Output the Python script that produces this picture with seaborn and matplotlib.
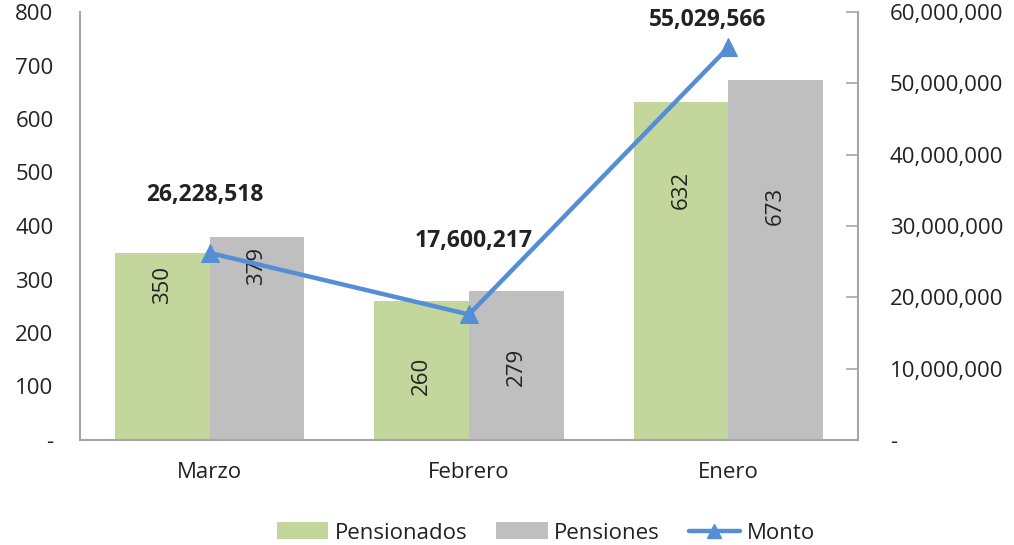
import matplotlib
matplotlib.use("Agg")
import matplotlib.pyplot as plt
import seaborn as sns
import pandas as pd
import numpy as np
from matplotlib.lines import Line2D
from matplotlib.patches import Patch
from matplotlib.ticker import FuncFormatter

# ---- data ----
months = ["Marzo", "Febrero", "Enero"]
pensionados = [350, 260, 632]
pensiones = [379, 279, 673]
monto = [26228518, 17600217, 55029566]
series_names = ["Pensionados", "Pensiones", "Monto"]

# ---- style ----
GREEN = "#C3D69B"
GREY = "#BFBFBF"
BLUE = "#558ED5"
AXIS = "#A6A6A6"
TEXT = "#222222"
FS = 16
# where the rotated labels sit, as a fraction of each bar's height
label_frac_pensionados = [0.83, 0.46, 0.74]
label_frac_pensiones = [0.86, 0.49, 0.65]

sns.set_theme(style="white")
plt.rcParams["font.family"] = ["Open Sans", "DejaVu Sans"]

df = pd.DataFrame({
    "Mes": months * 2,
    "Serie": [series_names[0]] * 3 + [series_names[1]] * 3,
    "Valor": pensionados + pensiones,
})

fig = plt.figure(figsize=(10.14, 5.45), dpi=100)
ax = fig.add_axes([80 / 1014, 105 / 545, 778 / 1014, 428 / 545])

sns.barplot(data=df, x="Mes", y="Valor", hue="Serie", order=months,
            hue_order=series_names[:2], palette=[GREEN, GREY],
            width=0.73, saturation=1, ax=ax, legend=False, linewidth=0)

ax.set_xlim(-0.5, 2.5)
ax.set_ylim(0, 800)
ax.set_yticks(np.arange(0, 801, 100))
ax.yaxis.set_major_formatter(FuncFormatter(lambda v, p: "-" if v == 0 else f"{int(v)}"))
ax.set_xlabel("")
ax.set_ylabel("")
ax.tick_params(axis="y", length=0, labelsize=FS, colors=TEXT, pad=19)
ax.tick_params(axis="x", length=0, labelsize=FS, colors=TEXT, pad=16)
for s in ["top", "right"]:
    ax.spines[s].set_visible(False)
for s in ["left", "bottom"]:
    ax.spines[s].set_color(AXIS)
    ax.spines[s].set_linewidth(1.5)

# rotated value labels inside the bars
for cont, vals, fracs in zip(ax.containers, [pensionados, pensiones],
                             [label_frac_pensionados, label_frac_pensiones]):
    for bar, v, f in zip(cont, vals, fracs):
        ax.text(bar.get_x() + bar.get_width() / 2, v * f, f"{v}",
                rotation=90, ha="center", va="center", fontsize=FS, color=TEXT)

# secondary axis: Monto line
ax2 = ax.twinx()
x = np.arange(len(months))
sns.lineplot(x=x, y=monto, ax=ax2, color=BLUE, linewidth=3.2,
             marker="^", markersize=13, markeredgecolor=BLUE, legend=False)
ax2.set_ylim(0, 60000000)
ax2.set_yticks(np.arange(0, 60000001, 10000000))
ax2.yaxis.set_major_formatter(FuncFormatter(lambda v, p: "-" if v == 0 else f"{int(v):,}"))
ax2.tick_params(axis="y", direction="in", length=9, width=1.2, color=AXIS,
                labelsize=FS, labelcolor=TEXT, pad=23)
for s in ["top", "left", "bottom"]:
    ax2.spines[s].set_visible(False)
ax2.spines["right"].set_color(AXIS)
ax2.spines["right"].set_linewidth(1.5)
ax2.set_ylabel("")

label_offsets_px = [(-5, 58), (5, 73), (-21, 27)]
for xi, v, (dx, dy) in zip(x, monto, label_offsets_px):
    ax2.annotate(f"{v:,}", (xi, v), xytext=(dx * 0.72, dy * 0.72),
                 textcoords="offset points", ha="center", va="center",
                 fontsize=16.5, fontweight="bold", color=TEXT)

handles = [Patch(facecolor=GREEN, edgecolor="none"),
           Patch(facecolor=GREY, edgecolor="none"),
           Line2D([0], [0], color=BLUE, linewidth=3.2, marker="^", markersize=10)]
fig.legend(handles, series_names, loc="center", bbox_to_anchor=(546 / 1014, 12 / 545),
           ncol=3, frameon=False, fontsize=FS, handlelength=2.3, handleheight=0.8,
           columnspacing=1.3, handletextpad=0.3, labelcolor=TEXT)

fig.savefig("out.png", dpi=100)
